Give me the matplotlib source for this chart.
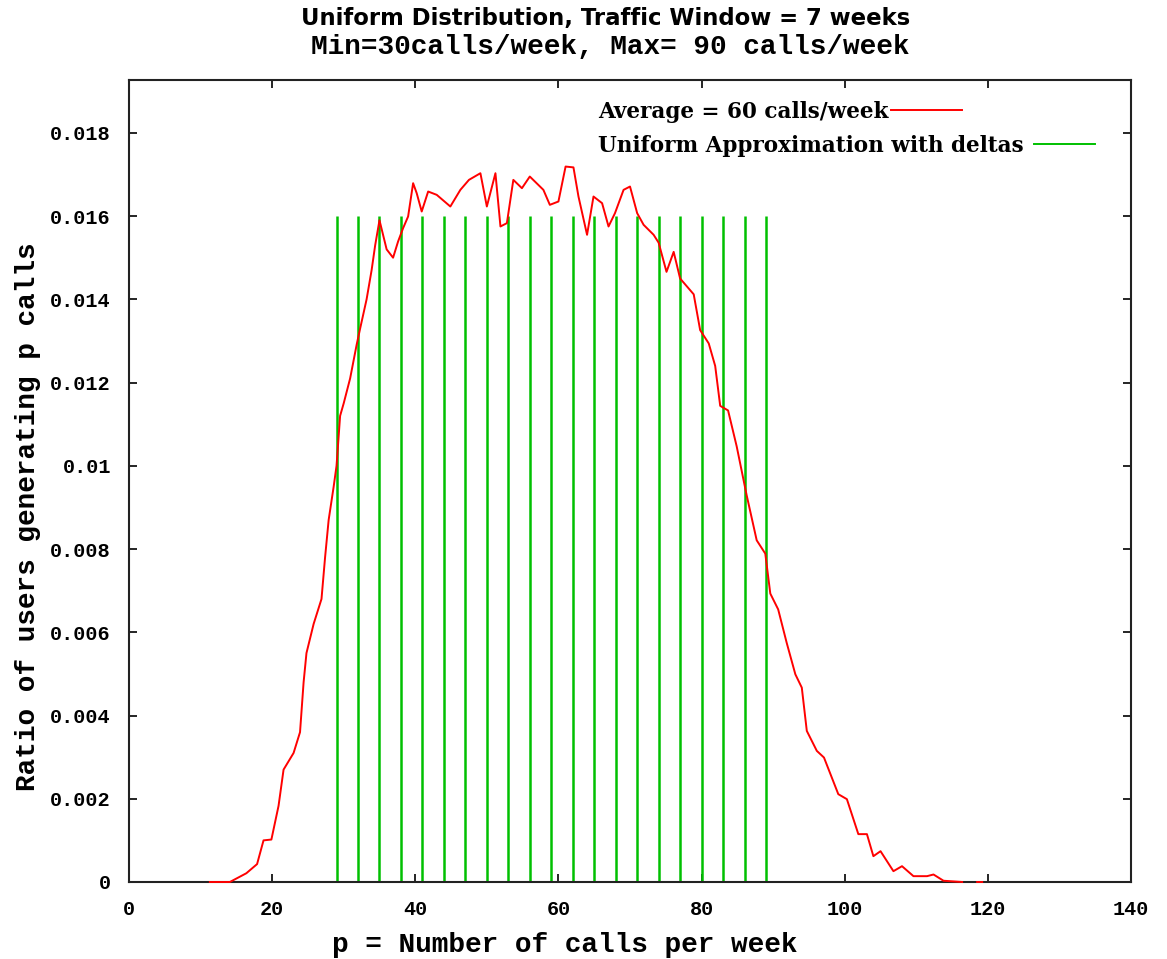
"""
Uniform traffic distribution vs. delta approximation (gnuplot style recreation).
"""
import numpy as np
import matplotlib
matplotlib.use("Agg")
import matplotlib.pyplot as plt
from matplotlib.lines import Line2D
from matplotlib.ticker import FuncFormatter

#--------------------------------------------------------
# Data
#--------------------------------------------------------
calls = [11.3, 14.1, 16.4, 17.9, 18.8, 19.9, 20.9, 21.6, 23.0, 23.9,
         24.4, 24.8, 25.8, 26.9, 27.4, 27.9, 28.6, 29.0, 29.5, 30.0,
         30.9, 31.8, 32.3, 33.2, 33.9, 34.4, 35.0, 36.0, 36.9, 37.6,
         38.3, 39.0, 39.7, 40.2, 40.9, 41.8, 43.0, 44.9, 46.3, 47.5,
         49.1, 50.0, 51.2, 51.9, 52.8, 53.7, 54.9, 56.0, 57.9, 58.8,
         60.0, 61.0, 62.1, 62.8, 64.0, 64.9, 66.1, 67.0, 67.9, 69.1,
         70.0, 71.0, 71.9, 73.3, 74.0, 75.1, 76.1, 77.0, 78.9, 79.8,
         81.0, 81.9, 82.6, 83.7, 84.9, 86.3, 87.7, 88.9, 89.6, 90.7,
         91.9, 93.1, 94.0, 94.7, 96.1, 97.1, 99.1, 100.3, 101.9, 103.1,
         104.0, 105.0, 106.8, 108.0, 109.6, 111.5, 112.4, 113.8, 116.4, 117.0,
         118.5, 119.2]
ratio = [0.0, 0.0, 0.00021, 0.00043, 0.00100, 0.00102, 0.00183, 0.00270, 0.00310, 0.00360,
         0.00480, 0.00550, 0.00620, 0.00680, 0.00780, 0.00870, 0.00950, 0.01000, 0.01120, 0.01150,
         0.01210, 0.01290, 0.01330, 0.01400, 0.01470, 0.01530, 0.01590, 0.01520, 0.01500, 0.01539,
         0.01571, 0.01599, 0.01679, 0.01655, 0.01611, 0.01659, 0.01651, 0.01623, 0.01663, 0.01687,
         0.01703, 0.01623, 0.01703, 0.01575, 0.01583, 0.01687, 0.01667, 0.01695, 0.01663, 0.01627,
         0.01635, 0.01719, 0.01717, 0.01647, 0.01555, 0.01647, 0.01631, 0.01575, 0.01607, 0.01663,
         0.01671, 0.01607, 0.01579, 0.01555, 0.01536, 0.01466, 0.01514, 0.01450, 0.01412, 0.01326,
         0.01294, 0.01240, 0.01144, 0.01133, 0.01047, 0.00929, 0.00821, 0.00789, 0.00693, 0.00655,
         0.00574, 0.00499, 0.00467, 0.00363, 0.00315, 0.00299, 0.00211, 0.00199, 0.00115, 0.00115,
         0.00062, 0.00074, 0.00026, 0.00038, 0.00014, 0.00014, 0.00018, 0.00003, 0.0, np.nan,
         0.0, 0.0]

delta_pos = [29, 32, 35, 38, 41, 44, 47, 50, 53, 56, 59,
             62, 65, 68, 71, 74, 77, 80, 83, 86, 89]
delta_height = 0.016

x_ticks = [0, 20, 40, 60, 80, 100, 120, 140]
y_ticks = [0, 0.002, 0.004, 0.006, 0.008, 0.01, 0.012, 0.014, 0.016, 0.018]

title_1 = "Uniform Distribution, Traffic Window = 7 weeks"
title_2 = "Min=30calls/week, Max= 90 calls/week"
label_avg = "Average = 60 calls/week"
label_uni = "Uniform Approximation with deltas"

#--------------------------------------------------------
# Plot
#--------------------------------------------------------
mono = "Liberation Mono"

fig = plt.figure(figsize=(11.67, 9.59), dpi=100)
ax = fig.add_axes([0.1105, 0.0803, 0.8587, 0.8363])

ax.plot(calls, ratio, color="#ff0000", lw=1.4, zorder=3, clip_on=False)
ax.vlines(delta_pos, 0, delta_height, color="#00c000", lw=1.8)

ax.set_xlim(0, 140)
ax.set_ylim(0, 0.01927)
ax.set_xticks(x_ticks)
ax.set_yticks(y_ticks)
ax.yaxis.set_major_formatter(FuncFormatter(lambda v, p: "%g" % v))
ax.tick_params(direction="in", length=6, width=1.2, top=True, right=True,
               labelsize=14.5, color="black")
ax.tick_params(axis="x", pad=13)
ax.tick_params(axis="y", pad=13)
for lab in ax.get_xticklabels() + ax.get_yticklabels():
    lab.set_fontfamily(mono)
    lab.set_fontweight("bold")
for sp in ax.spines.values():
    sp.set_linewidth(1.5)
    sp.set_color("#222222")

ax.set_xlabel("p = Number of calls per week", fontfamily=mono,
              fontweight="bold", fontsize=20)
ax.set_ylabel("Ratio of users generating p calls", fontfamily=mono,
              fontweight="bold", fontsize=20)
ax.xaxis.set_label_coords(0.435, -0.062)
ax.yaxis.set_label_coords(-0.088, 0.455)

fig.text(0.519, 1 - 18 / 959, title_1, ha="center", va="center",
         fontfamily="DejaVu Sans", fontweight="bold", fontsize=16.4)
fig.text(0.523, 1 - 47 / 959, title_2, ha="center", va="center",
         fontfamily=mono, fontweight="bold", fontsize=20)

# key: text first, sample line right after it
leg_font = {"family": "DejaVu Serif", "weight": "bold", "size": 15.5}
h1 = Line2D([], [], color="#ff0000", lw=1.4)
h2 = Line2D([], [], color="#00c000", lw=1.4)
leg1 = ax.legend([h1], [label_avg], loc="center left",
                 bbox_to_anchor=((598 - 129) / 1002, (882 - 112) / 802),
                 markerfirst=False, frameon=False, prop=leg_font,
                 handlelength=3.3, handletextpad=0.1, borderpad=0, borderaxespad=0)
ax.add_artist(leg1)
leg2 = ax.legend([h2], [label_uni], loc="center left",
                 bbox_to_anchor=((598 - 129) / 1002, (882 - 146) / 802),
                 markerfirst=False, frameon=False, prop=leg_font,
                 handlelength=2.8, handletextpad=0.5, borderpad=0, borderaxespad=0)

fig.savefig("out.png", dpi=100)
